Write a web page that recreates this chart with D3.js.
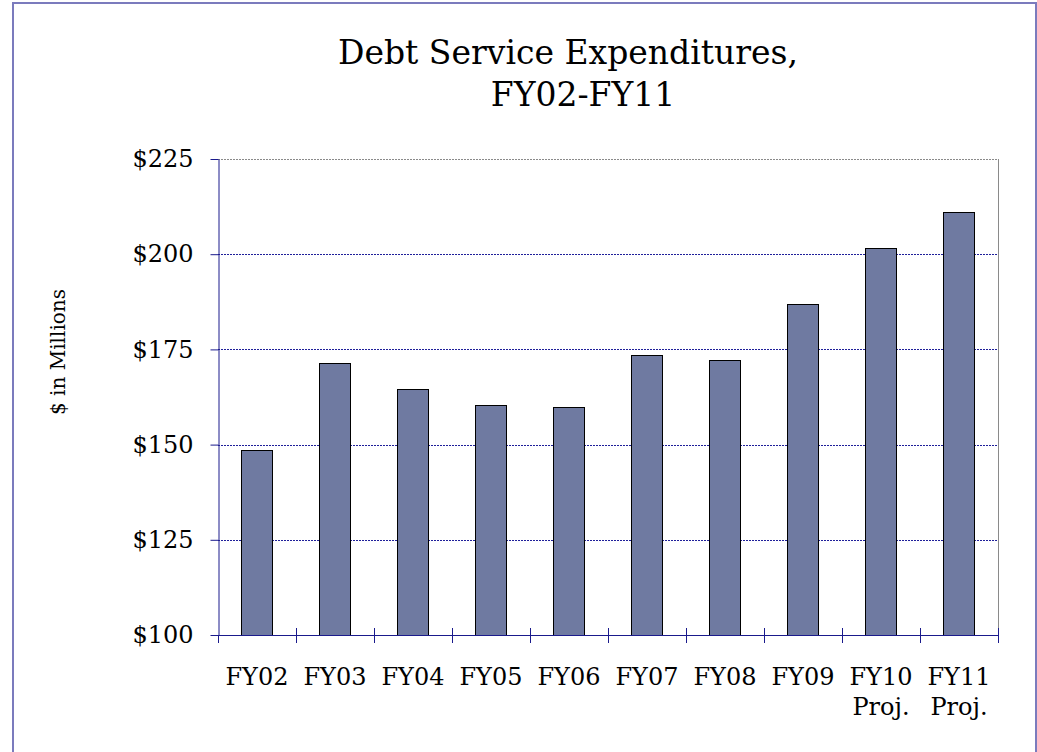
<!DOCTYPE html>
<html>
<head>
<meta charset="utf-8">
<script src="https://cdn.jsdelivr.net/npm/d3@7"></script>
<style>
  body { margin: 0; background: #fff; }
  text { font-family: "DejaVu Serif", serif; fill: #000; }
</style>
</head>
<body>
<svg id="chart" width="1037" height="752"></svg>
<script>
// data
var years = ["FY02","FY03","FY04","FY05","FY06","FY07","FY08","FY09","FY10","FY11"]
var subLabels = ["","","","","","","","","Proj.","Proj."]
var debtService = [148.6, 171.3, 164.5, 160.4, 160.0, 173.5, 172.2, 186.9, 201.6, 211.1]
var yTicks = [100, 125, 150, 175, 200, 225]

var svg = d3.select("#chart")

var plotLeft = 218, plotRight = 998, plotTop = 159, plotBottom = 635

// outer frame
svg.append("path")
  .attr("d", "M13,760 V3 H1036 V760")
  .attr("fill", "none")
  .attr("stroke", "#7b7bbd")
  .attr("stroke-width", 2)

// title
svg.append("text")
  .attr("x", 568).attr("y", 64)
  .attr("text-anchor", "middle")
  .attr("font-size", "33px")
  .text("Debt Service Expenditures,")
svg.append("text")
  .attr("x", 583).attr("y", 106)
  .attr("text-anchor", "middle")
  .attr("font-size", "33px")
  .text("FY02-FY11")

var x = d3.scaleBand()
  .domain(years)
  .range([plotLeft, plotRight])
  .paddingInner(0.6)
  .paddingOuter(0.3)

var y = d3.scaleLinear()
  .domain([100, 225])
  .range([plotBottom, plotTop])

// gridlines
svg.selectAll(".grid")
  .data(yTicks.filter(function(d) { return d > 100; }))
  .enter()
  .append("line")
  .attr("class", "grid")
  .attr("x1", plotLeft).attr("x2", plotRight)
  .attr("y1", function(d) { return Math.round(y(d)) + 0.5; })
  .attr("y2", function(d) { return Math.round(y(d)) + 0.5; })
  .attr("stroke", function(d) { return d == 225 ? "#8a8a8a" : "#1f1f9a"; })
  .attr("stroke-dasharray", "2,1")

// right edge of plot area
svg.append("line")
  .attr("x1", plotRight + 0.5).attr("x2", plotRight + 0.5)
  .attr("y1", plotTop).attr("y2", plotBottom)
  .attr("stroke", "#8a8a8a")

// bars
svg.selectAll(".bar")
  .data(debtService)
  .enter()
  .append("rect")
  .attr("class", "bar")
  .attr("x", function(d, i) { return Math.round(x(years[i])) + 0.5; })
  .attr("y", function(d) { return Math.round(y(d)) + 0.5; })
  .attr("width", Math.round(x.bandwidth()))
  .attr("height", function(d) { return Math.round(y(100)) - Math.round(y(d)); })
  .attr("fill", "#6f7aa1")
  .attr("stroke", "#000")
  .attr("stroke-width", 1)

// y axis
var yAxis = svg.append("g")
  .attr("transform", "translate(" + (plotLeft + 0.5) + ",0)")
  .call(d3.axisLeft(y).tickValues(yTicks).tickSize(8).tickSizeOuter(0).tickPadding(17)
    .tickFormat(function(d) { return "$" + d; }))
yAxis.select(".domain").attr("stroke", "#1a1a8c")
yAxis.selectAll(".tick line").attr("stroke", "#1a1a8c")
yAxis.selectAll(".tick text")
  .attr("font-family", "DejaVu Serif, serif")
  .attr("font-size", "24px")
  .attr("fill", "#000")

// x axis: baseline and ticks at category boundaries
var boundaries = d3.range(years.length + 1)
svg.append("line")
  .attr("x1", plotLeft).attr("x2", plotRight + 1)
  .attr("y1", plotBottom + 0.5).attr("y2", plotBottom + 0.5)
  .attr("stroke", "#1a1a8c")
svg.selectAll(".xtick")
  .data(boundaries)
  .enter()
  .append("line")
  .attr("class", "xtick")
  .attr("x1", function(d) { return Math.round(plotLeft + d * x.step()) + 0.5; })
  .attr("x2", function(d) { return Math.round(plotLeft + d * x.step()) + 0.5; })
  .attr("y1", function(d) { return d == 0 ? plotBottom : plotBottom - 7; })
  .attr("y2", plotBottom + 8)
  .attr("stroke", "#1a1a8c")

// x labels
var xl = svg.selectAll(".xlabel")
  .data(years)
  .enter()
  .append("text")
  .attr("class", "xlabel")
  .attr("text-anchor", "middle")
  .attr("font-size", "24px")
xl.append("tspan")
  .attr("x", function(d) { return x(d) + x.bandwidth() / 2; })
  .attr("y", 685)
  .text(function(d) { return d; })
xl.append("tspan")
  .attr("x", function(d) { return x(d) + x.bandwidth() / 2; })
  .attr("y", 715)
  .text(function(d, i) { return subLabels[i]; })

// y axis title
svg.append("text")
  .attr("transform", "translate(65,352) rotate(-90)")
  .attr("text-anchor", "middle")
  .attr("font-size", "20px")
  .text("$ in Millions")
</script>
</body>
</html>
